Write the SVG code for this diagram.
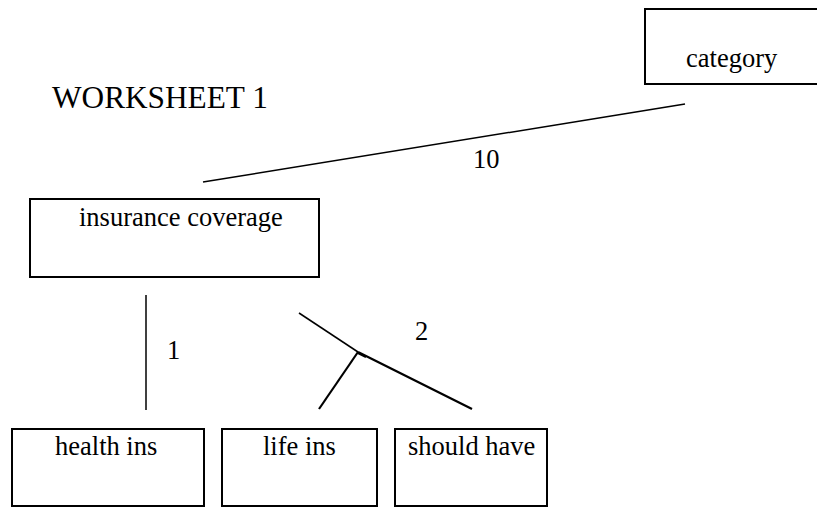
<svg xmlns="http://www.w3.org/2000/svg" width="817" height="507" viewBox="0 0 817 507">
<style>
.box{fill:#fff;stroke:#000;stroke-width:2}
.t{font-family:"Liberation Serif","Times New Roman",serif;font-size:26.5px;fill:#000}
.title{font-family:"Liberation Serif","Times New Roman",serif;font-size:31.3px;fill:#000}
.c{stroke:#000;fill:none;stroke-width:1.5;stroke-linecap:butt}
.c2{stroke:#000;fill:none;stroke-width:2.2}
</style>
<rect width="817" height="507" fill="#fff"/>
<text class="title" x="52" y="108">WORKSHEET 1</text>
<g id="category">
<rect class="box" x="645" y="9" width="180" height="75"/>
<text class="t" x="686" y="67">category</text>
</g>
<g id="insurance-coverage">
<rect class="box" x="30" y="199" width="289" height="78"/>
<text class="t" x="79" y="226">insurance coverage</text>
</g>
<g id="health-ins">
<rect class="box" x="12" y="429" width="192" height="77"/>
<text class="t" x="55" y="455">health ins</text>
</g>
<g id="life-ins">
<rect class="box" x="222" y="429" width="155" height="77"/>
<text class="t" x="263" y="455">life ins</text>
</g>
<g id="should-have">
<rect class="box" x="395" y="429" width="152" height="77"/>
<text class="t" x="408" y="455">should have</text>
</g>
<g id="connectors">
<line class="c" x1="203" y1="182" x2="685" y2="104"/>
<text class="t" x="473" y="168">10</text>
<line class="c" x1="146" y1="295" x2="146" y2="410"/>
<text class="t" x="167" y="359">1</text>
<line class="c" x1="299" y1="313" x2="358" y2="352"/>
<line class="c2" x1="358" y1="352" x2="472" y2="409"/>
<line class="c2" x1="358" y1="352" x2="319" y2="409"/>
<line class="c2" x1="358" y1="353" x2="366" y2="357"/>
<text class="t" x="415" y="340">2</text>
</g>
</svg>
